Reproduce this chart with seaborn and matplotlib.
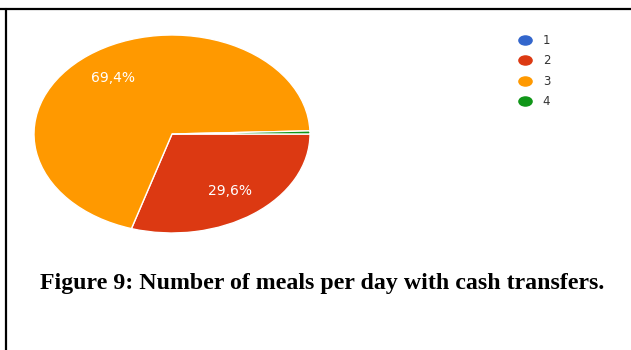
import matplotlib
matplotlib.use("Agg")
import matplotlib.pyplot as plt
from matplotlib.lines import Line2D
from matplotlib.path import Path
from matplotlib.transforms import Affine2D
import seaborn as sns

# Share of respondents (%) by number of meals per day
meal_counts = ["1", "2", "3", "4"]
shares = [0.0, 29.6, 69.4, 0.5]
slice_colors = ["#3366cc", "#dc3912", "#ff9900", "#109618"]
caption = "Figure 9: Number of meals per day with cash transfers."

sns.set_theme(style="white")
plt.rcParams["font.family"] = ["DejaVu Sans"]
palette = sns.color_palette(slice_colors)
total = sum(shares)

fig = plt.figure(figsize=(6.31, 3.5), dpi=100)
fig.patch.set_facecolor("white")

# Pie axes stretched horizontally into an ellipse
ax = fig.add_axes([34 / 631, 1 - 233 / 350, 276 / 631, 198 / 350])


def pct_label(p):
    value = p * total / 100
    return f"{value:.1f}%".replace(".", ",") if value >= 5 else ""


wedges, _, autotexts = ax.pie(
    shares,
    colors=palette,
    startangle=0,
    counterclock=False,
    autopct=pct_label,
    pctdistance=0.71,
    wedgeprops=dict(edgecolor="white", linewidth=1.0),
    textprops=dict(color="white", fontsize=10),
)
ax.set_aspect("auto")
ax.set_xlim(-1, 1)
ax.set_ylim(-1, 1)
ax.axis("off")

# Legend with oval swatches
oval = Affine2D().scale(1.45, 1.0).transform_path(Path.unit_circle())
handles = [
    Line2D([0], [0], marker=oval, linestyle="none", markersize=9.5,
           markerfacecolor=c, markeredgecolor=c)
    for c in palette
]
fig.legend(
    handles, meal_counts,
    loc="upper left", bbox_to_anchor=(518 / 631, 1 - 34 / 350),
    frameon=False, fontsize=8.5, labelcolor="#333333",
    handlelength=1.25, handletextpad=0.85, labelspacing=0.62,
    borderpad=0, borderaxespad=0,
)

# Caption
fig.text(0.511, 1 - 289 / 350, caption, ha="center", va="baseline",
         fontsize=17.2, fontweight="bold", color="black",
         family=["Liberation Serif"])

# Frame lines along the top and left edges
fig.add_artist(Line2D([0, 1], [1 - 8.5 / 350, 1 - 8.5 / 350],
                      transform=fig.transFigure, color="black", linewidth=1.6))
fig.add_artist(Line2D([5.5 / 631, 5.5 / 631], [0, 1 - 8.5 / 350],
                      transform=fig.transFigure, color="black", linewidth=1.6))

fig.savefig("out.png", dpi=100, facecolor="white")
